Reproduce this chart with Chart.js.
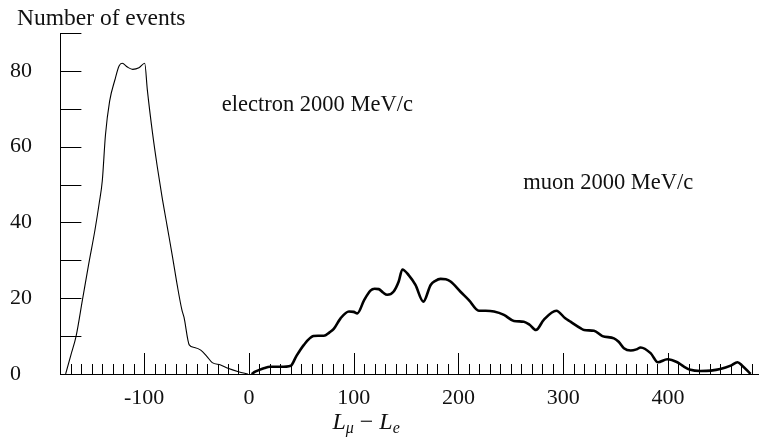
<!DOCTYPE html>
<html lang="en">

<head>
  <meta charset="UTF-8">
  <title>Number of events</title>
  <script src="https://cdn.jsdelivr.net/npm/chart.js"></script>
  <style>
    body {
      margin: 0;
      background: #fff;
    }

    #wrap {
      width: 759px;
      height: 439px;
      position: relative;
    }
  </style>
</head>

<body>
  <div id="wrap">
    <canvas id="chart"></canvas>
  </div>

  <script>
    // electron 2000 MeV/c
    const electronX = [-175, -170, -165, -159, -153, -147, -143, -140, -137, -133, -128, -124, -121, -116, -111, -105, -99.5, -97, -92, -87.5, -83, -78, -73, -68.5, -64, -62, -57, -52, -46, -40, -35, -27, -20, -10, -1];
    const electronY = [0, 5, 10, 19.5, 29, 38, 45, 51, 63, 72, 77.6, 81.3, 82, 81, 80.4, 80.8, 82, 75, 63.5, 54.7, 46.8, 38.9, 31, 23.5, 16.9, 15, 7.7, 7, 6.3, 4.6, 3, 2.4, 1.5, 0.6, 0];

    // muon 2000 MeV/c
    const muonX = [2.5, 6, 10, 15, 20, 30, 40, 45, 52.5, 61.5, 66, 71.5, 77, 81, 87.5, 95.5, 100, 103.5, 110, 116, 120, 124, 128, 132, 138, 143, 146.5, 152.5, 159, 166.5, 173.5, 178, 183, 188, 192.5, 202, 210, 219.5, 226, 234, 243.5, 253, 262.5, 268, 274, 281.5, 293.5, 302, 307, 316.5, 320, 329.5, 337.5, 348.5, 353, 358, 364.5, 370, 374, 383.5, 390.5, 399.5, 409, 415, 421.5, 431, 441, 450, 460, 466.5, 471, 479];
    const muonY = [0, 0.6, 1.1, 1.6, 1.9, 1.9, 2.2, 4.6, 7.7, 10, 10.1, 10.1, 11, 11.9, 14.7, 16.5, 16.4, 16, 19.5, 22, 22.5, 22.4, 21.5, 20.9, 21.7, 24.4, 27.6, 26.1, 23.5, 19.1, 23.5, 24.6, 25.1, 25, 24.4, 21.7, 19.5, 16.7, 16.7, 16.5, 15.6, 14, 13.8, 13, 11.6, 14.3, 16.7, 14.7, 13.8, 12.1, 11.6, 11.4, 10, 9.4, 8.5, 6.8, 6.2, 6.5, 7, 5.5, 3.1, 3.9, 3.1, 2, 1.1, 0.8, 0.9, 1.3, 2.2, 3.1, 2.2, 0];

    const xTickLabels = [-100, 0, 100, 200, 300, 400];
    const yTickLabels = [0, 20, 40, 60, 80];

    const serif = '"Liberation Serif", "Times New Roman", serif';

    const toPoints = (xs, ys) => xs.map((x, i) => ({ x: x, y: ys[i] }));

    // little inward ticks + texts, like the original plot
    const decor = {
      id: 'decor',
      afterDraw(chart) {
        const ctx = chart.ctx;
        const xs = chart.scales.x;
        const ys = chart.scales.y;
        const area = chart.chartArea;
        ctx.save();
        ctx.strokeStyle = '#000';
        ctx.lineWidth = 1;
        ctx.beginPath();
        for (let v = -170; v <= 480; v += 10) {
          const px = Math.round(xs.getPixelForValue(v)) + 0.5;
          const len = v % 100 === 0 ? 21 : 10;
          ctx.moveTo(px, area.bottom);
          ctx.lineTo(px, area.bottom - len);
        }
        for (let v = 10; v <= 90; v += 10) {
          const py = Math.round(ys.getPixelForValue(v)) + 0.5;
          ctx.moveTo(area.left, py);
          ctx.lineTo(area.left + 21, py);
        }
        ctx.stroke();

        ctx.fillStyle = '#111';
        ctx.textBaseline = 'alphabetic';
        ctx.textAlign = 'left';
        ctx.font = '23.5px ' + serif;
        ctx.fillText('Number of events', 17, 25);

        ctx.font = '22.5px ' + serif;
        ctx.textBaseline = 'middle';
        ctx.fillText('electron 2000 MeV/c', xs.getPixelForValue(-26), ys.getPixelForValue(71));
        ctx.fillText('muon 2000 MeV/c', xs.getPixelForValue(262), ys.getPixelForValue(50.4));

        // L_mu - L_e
        ctx.textBaseline = 'alphabetic';
        let x = xs.getPixelForValue(115) - 37;
        const base = 429;
        const parts = [
          ['italic 24px ' + serif, 'L', 0],
          ['italic 16px ' + serif, 'μ', 4],
          ['24px ' + serif, ' − ', 0],
          ['italic 24px ' + serif, 'L', 0],
          ['italic 16px ' + serif, 'e', 4]
        ];
        parts.forEach(p => {
          ctx.font = p[0];
          ctx.fillText(p[1], x, base + p[2]);
          x += ctx.measureText(p[1]).width;
        });
        ctx.restore();
      }
    };

    new Chart(document.getElementById('chart'), {
      type: 'scatter',
      data: {
        datasets: [{
          label: 'electron 2000 MeV/c',
          data: toPoints(electronX, electronY),
          showLine: true,
          borderColor: '#000',
          borderWidth: 1.1,
          pointRadius: 0,
          cubicInterpolationMode: 'monotone'
        }, {
          label: 'muon 2000 MeV/c',
          data: toPoints(muonX, muonY),
          showLine: true,
          borderColor: '#000',
          borderWidth: 2.6,
          pointRadius: 0,
          cubicInterpolationMode: 'monotone'
        }]
      },
      options: {
        animation: false,
        responsive: true,
        maintainAspectRatio: false,
        devicePixelRatio: 1,
        layout: {
          padding: { left: 10, top: 33, right: 0, bottom: 0 }
        },
        scales: {
          x: {
            type: 'linear',
            min: -180,
            max: 487,
            grid: { display: false, drawTicks: false },
            border: { display: true, color: '#000', width: 1 },
            afterBuildTicks: s => { s.ticks = xTickLabels.map(v => ({ value: v })); },
            afterFit: s => { s.height = 65; },
            ticks: {
              color: '#111',
              padding: 11,
              maxRotation: 0,
              font: { family: serif, size: 22 }
            }
          },
          y: {
            type: 'linear',
            min: 0,
            max: 90,
            grid: { display: false, drawTicks: false },
            border: { display: true, color: '#000', width: 1 },
            afterBuildTicks: s => { s.ticks = yTickLabels.map(v => ({ value: v })); },
            afterFit: s => { s.width = 50.4; },
            ticks: {
              color: '#111',
              crossAlign: 'far',
              font: { family: serif, size: 22 }
            }
          }
        },
        plugins: {
          legend: { display: false },
          tooltip: { enabled: false }
        }
      },
      plugins: [decor]
    });
  </script>
</body>

</html>
